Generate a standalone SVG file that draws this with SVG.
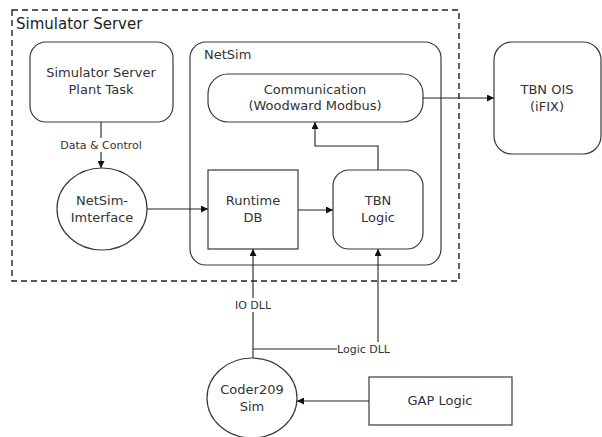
<svg xmlns="http://www.w3.org/2000/svg" width="602" height="437" viewBox="0 0 602 437">
<style>
.n{fill:#fff;stroke:#3a3a3a;stroke-width:1.2}
.t{font-family:"DejaVu Sans",Verdana,sans-serif;font-size:13px;fill:#333;text-anchor:middle}
.l{font-family:"DejaVu Sans",Verdana,sans-serif;font-size:11px;fill:#333}
.c{fill:none;stroke:#222;stroke-width:1.1}
.bg{fill:#fff}
</style>
<defs>
<marker id="a" viewBox="0 0 10 10" refX="10" refY="5" markerWidth="7" markerHeight="7" markerUnits="userSpaceOnUse" orient="auto">
<path d="M0,0 L10,5 L0,10 z" fill="#111"/>
</marker>
</defs>
<rect width="602" height="437" fill="#fff"/>
<g id="simulator-server">
<rect x="12" y="10" width="447" height="271" fill="none" stroke="#222" stroke-width="1.4" stroke-dasharray="6,4"/>
<text x="16" y="29" style="font-family:'DejaVu Sans',Verdana,sans-serif;font-size:15px;fill:#222">Simulator Server</text>
</g>
<g id="netsim">
<rect class="n" x="190" y="42" width="251" height="223" rx="16"/>
<text x="204" y="59" class="t" style="text-anchor:start">NetSim</text>
</g>
<g id="plant-task">
<rect class="n" x="30" y="42" width="143" height="80" rx="16"/>
<text class="t" x="101" y="77">Simulator Server</text>
<text class="t" x="101" y="94">Plant Task</text>
</g>
<g id="netsim-interface">
<ellipse class="n" cx="102" cy="209" rx="45" ry="41"/>
<text class="t" x="102" y="205">NetSim-</text>
<text class="t" x="102" y="222">Imterface</text>
</g>
<g id="communication">
<rect class="n" x="208" y="74" width="215" height="48" rx="20"/>
<text class="t" x="315" y="94">Communication</text>
<text class="t" x="315" y="110">(Woodward Modbus)</text>
</g>
<g id="runtime-db">
<rect class="n" x="208" y="170" width="90" height="79"/>
<text class="t" x="253" y="205">Runtime</text>
<text class="t" x="253" y="222">DB</text>
</g>
<g id="tbn-logic">
<rect class="n" x="333" y="170" width="90" height="79" rx="16"/>
<text class="t" x="378" y="205">TBN</text>
<text class="t" x="378" y="222">Logic</text>
</g>
<g id="tbn-ois">
<rect class="n" x="494" y="42" width="107" height="112" rx="18"/>
<text class="t" x="547" y="94">TBN OIS</text>
<text class="t" x="547" y="111">(iFIX)</text>
</g>
<g id="coder209">
<ellipse class="n" cx="252" cy="398" rx="45" ry="40"/>
<text class="t" x="252" y="394">Coder209</text>
<text class="t" x="252" y="411">Sim</text>
</g>
<g id="gap-logic">
<rect class="n" x="369" y="377" width="143" height="48"/>
<text class="t" x="440" y="405">GAP Logic</text>
</g>
<g id="connectors">
<path class="c" d="M101,122 V168" marker-end="url(#a)"/>
<rect class="bg" x="57" y="138" width="88" height="14"/>
<text class="l" x="101" y="149" style="text-anchor:middle">Data &amp; Control</text>
<path class="c" d="M147,209 H208" marker-end="url(#a)"/>
<path class="c" d="M298,210 H333" marker-end="url(#a)"/>
<path class="c" d="M378,170 V146 H315 V122" marker-end="url(#a)"/>
<path class="c" d="M423,98 H494" marker-end="url(#a)"/>
<path class="c" d="M253,358 V249" marker-end="url(#a)"/>
<rect class="bg" x="230" y="298" width="46" height="14"/>
<text class="l" x="253" y="309" style="text-anchor:middle">IO DLL</text>
<path class="c" d="M253,349 H337"/>
<path class="c" d="M378,342 V249" marker-end="url(#a)"/>
<text class="l" x="337" y="353">Logic DLL</text>
<path class="c" d="M369,401 H297" marker-end="url(#a)"/>
</g>
</svg>
